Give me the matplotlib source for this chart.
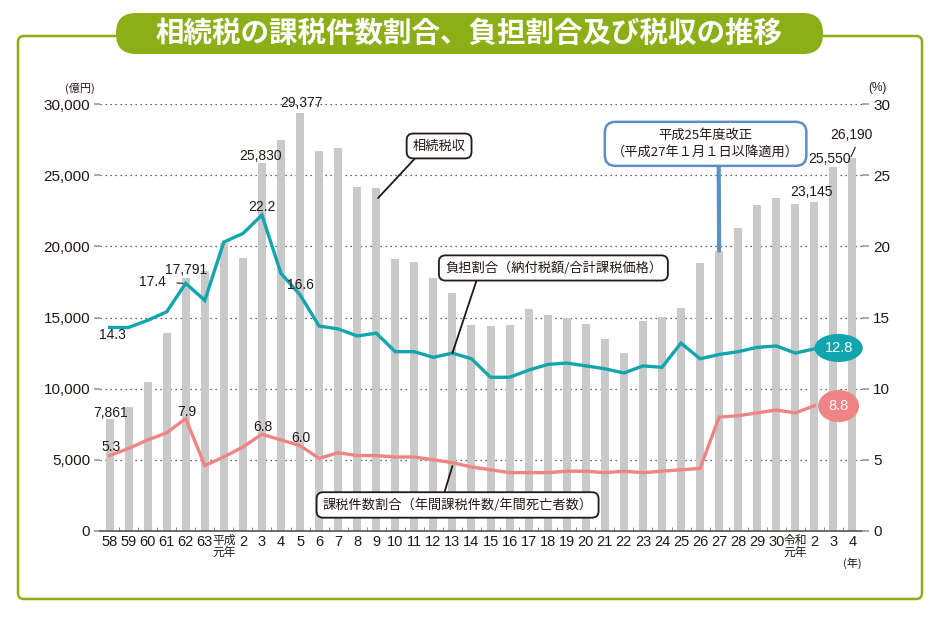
import matplotlib
matplotlib.use("Agg")
import matplotlib.pyplot as plt
from matplotlib import font_manager
from matplotlib.patches import FancyBboxPatch
import numpy as np

# -------------------------------
# Data
# -------------------------------
years = ['58', '59', '60', '61', '62', '63', '平成\n元年', '2', '3', '4', '5', '6', '7', '8', '9',
         '10', '11', '12', '13', '14', '15', '16', '17', '18', '19', '20', '21', '22', '23', '24',
         '25', '26', '27', '28', '29', '30', '令和\n元年', '2', '3', '4']

# 相続税収 (億円)
revenue = [7861, 8700, 10500, 13900, 17791, 18300, 20200, 19200, 25830, 27500,
           29377, 26700, 26900, 24200, 24100, 19100, 18900, 17800, 16700, 14500,
           14400, 14500, 15600, 15200, 15000, 14550, 13500, 12500, 14750, 15050,
           15700, 18800, 19700, 21300, 22900, 23400, 23000, 23145, 25550, 26190]

# 負担割合 (%)  -> 令和2年まで
burden = [14.3, 14.3, 14.8, 15.4, 17.4, 16.2, 20.3, 20.9, 22.2, 18.1,
          16.6, 14.4, 14.2, 13.7, 13.9, 12.6, 12.6, 12.2, 12.5, 12.1,
          10.8, 10.8, 11.3, 11.7, 11.8, 11.6, 11.4, 11.1, 11.6, 11.5,
          13.2, 12.1, 12.4, 12.6, 12.9, 13.0, 12.5, 12.8]

# 課税件数割合 (%)
taxable = [5.3, 5.8, 6.4, 6.9, 7.9, 4.6, 5.2, 5.9, 6.8, 6.4,
           6.0, 5.1, 5.5, 5.3, 5.3, 5.2, 5.2, 5.0, 4.8, 4.5,
           4.3, 4.1, 4.1, 4.1, 4.2, 4.2, 4.1, 4.2, 4.1, 4.2,
           4.3, 4.4, 8.0, 8.1, 8.3, 8.5, 8.3, 8.8]

left_ticks = [0, 5000, 10000, 15000, 20000, 25000, 30000]
right_ticks = [0, 5, 10, 15, 20, 25, 30]

# -------------------------------
# Style
# -------------------------------
names = {f.name for f in font_manager.fontManager.ttflist}
num_font = 'Liberation Sans Narrow' if 'Liberation Sans Narrow' in names else 'Liberation Sans'
jp = ['Noto Sans CJK JP', 'DejaVu Sans']
mixed = [num_font, 'Noto Sans CJK JP', 'DejaVu Sans']
plt.rcParams['font.family'] = mixed

green = '#8cae17'
teal = '#11a6ad'
pink = '#ef8484'
blue = '#5b8fc6'
bar_gray = '#c9c9c9'
text_c = '#231815'

fig = plt.figure(figsize=(9.4, 6.2), dpi=100)

# frame and title in pixel coordinates
bg = fig.add_axes([0, 0, 1, 1], zorder=0)
bg.set_xlim(0, 940)
bg.set_ylim(620, 0)
bg.axis('off')
bg.add_patch(FancyBboxPatch((18, 36), 904, 563, boxstyle='round,pad=0,rounding_size=6',
                            fc='white', ec=green, lw=1.8))
bg.add_patch(FancyBboxPatch((116, 13), 707, 41, boxstyle='round,pad=0,rounding_size=20',
                            fc=green, ec='none'))
bg.text(469, 34, '相続税の課税件数割合、負担割合及び税収の推移', color='white',
        fontsize=20.5, fontweight='bold', family=jp, ha='center', va='center')

# -------------------------------
# Main chart
# -------------------------------
x = np.arange(len(years))
ax = fig.add_axes([100 / 940, 1 - 531 / 620, 762 / 940, 427 / 620], zorder=1)
ax.patch.set_alpha(0)

ax.bar(x, revenue, width=0.42, color=bar_gray, zorder=2)
ax.set_xlim(-0.5, 39.5)
ax.set_ylim(0, 30000)
ax.set_yticks(left_ticks)
ax.set_yticklabels([f'{v:,}' for v in left_ticks])
ax.set_axisbelow(True)
ax.yaxis.grid(True, color='#333333', linestyle=(0, (1, 3)), linewidth=0.9)
ax.tick_params(axis='y', direction='out', length=4, width=1.2, color='#999999',
               labelsize=11, labelcolor=text_c, pad=3)
ax.set_xticks(x)
ax.set_xticklabels(years)
ax.set_xticks(x[:-1] + 0.5, minor=True)
ax.tick_params(axis='x', which='major', length=0, labelsize=10.5, labelcolor=text_c, pad=3)
ax.tick_params(axis='x', which='minor', direction='in', length=3, color='#777777')
for lab in ax.get_xticklabels():
    if '\n' in lab.get_text():
        lab.set_fontsize(8.5)
        lab.set_linespacing(0.95)
for s in ['top', 'right', 'left']:
    ax.spines[s].set_visible(False)
ax.spines['bottom'].set_color('#555555')
ax.spines['bottom'].set_linewidth(1.2)

ax2 = ax.twinx()
ax2.set_zorder(2)
ax2.set_ylim(0, 30)
ax2.set_yticks(right_ticks)
ax2.tick_params(axis='y', direction='out', length=5, width=1.2, color='#999999',
                labelsize=11, labelcolor=text_c, pad=3)
for s in ['top', 'right', 'left', 'bottom']:
    ax2.spines[s].set_visible(False)

xl = x[:len(burden)]
ax2.plot(xl, burden, color=teal, lw=2.4, solid_joinstyle='miter', zorder=3)
ax2.plot(xl, taxable, color=pink, lw=2.4, solid_joinstyle='miter', zorder=3)

# units
ax.text(-0.026, 1.037, '(億円)', transform=ax.transAxes, ha='center', va='center',
        fontsize=8, family=jp, color=text_c)
ax.text(1.02, 1.037, '(%)', transform=ax.transAxes, ha='center', va='center',
        fontsize=8.5, color=text_c)
ax.annotate('(年)', xy=(39, 0), xycoords=('data', 'axes fraction'), xytext=(0, -23),
            textcoords='offset points', ha='center', va='center', fontsize=8, family=jp,
            color=text_c)

# bar value labels
lab_kw = dict(ha='center', va='center', fontsize=10, color=text_c)
ax.text(0.05, 8310, '7,861', **lab_kw)
ax.text(4.0, 18340, '17,791', **lab_kw)
ax.text(7.93, 26350, '25,830', **lab_kw)
ax.text(10.08, 30060, '29,377', **lab_kw)
ax.text(36.84, 23850, '23,145', **lab_kw)
ax.text(37.8, 26120, '25,550', **lab_kw)
ax.annotate('26,190', xy=(38.92, revenue[39] + 100), xytext=(38.94, 27830), ha='center',
            va='center', fontsize=10, color=text_c,
            arrowprops=dict(arrowstyle='-', color=text_c, lw=0.8, relpos=(0.65, 0),
                            shrinkA=2, shrinkB=0))

# line value labels
ax2.text(0.16, 13.8, '14.3', **lab_kw)
ax2.annotate('17.4', xy=(3.85, burden[4]), xytext=(2.25, 17.52), ha='center', va='center',
             fontsize=10, color=text_c,
             arrowprops=dict(arrowstyle='-', color=text_c, lw=0.8, shrinkA=6, shrinkB=0))
ax2.text(7.98, 22.79, '22.2', **lab_kw)
ax2.text(10.03, 17.29, '16.6', **lab_kw)
ax2.text(0.1, 5.92, '5.3', **lab_kw)
ax2.text(4.08, 8.34, '7.9', **lab_kw)
ax2.text(8.06, 7.33, '6.8', **lab_kw)
ax2.text(10.07, 6.51, '6.0', **lab_kw)

# end labels
ax2.text(38.27, 12.86, '12.8', ha='center', va='center', fontsize=10.5, color='white',
         bbox=dict(boxstyle='ellipse,pad=0.2', fc=teal, ec='none'), zorder=5)
ax2.text(38.27, 8.78, '8.8', ha='center', va='center', fontsize=10.5, color='white',
         bbox=dict(boxstyle='ellipse,pad=0.3', fc=pink, ec='none'), zorder=5)

# callouts
box_kw = dict(boxstyle='round,pad=0.45,rounding_size=0.5', fc='white', ec=text_c, lw=1.3)
ax2.annotate('相続税収', xy=(14.1, 23400), xycoords=ax.transData, xytext=(17.3, 27.05),
             textcoords=ax2.transData,
             ha='center', va='center', fontsize=9.5, family=jp, color=text_c, bbox=box_kw,
             arrowprops=dict(arrowstyle='-', color=text_c, lw=1.3, relpos=(0.15, 0),
                             shrinkA=0, shrinkB=0), zorder=6)
ax2.annotate('負担割合（納付税額/合計課税価格）', xy=(18, burden[18]), xytext=(23.3, 18.48),
             ha='center', va='center', fontsize=9.5, family=jp, color=text_c, bbox=box_kw,
             arrowprops=dict(arrowstyle='-', color=text_c, lw=1.3, relpos=(0.155, 0),
                             shrinkA=0, shrinkB=0), zorder=6)
ax2.annotate('課税件数割合（年間課税件数/年間死亡者数）', xy=(18, 4.57), xytext=(18.27, 1.83),
             ha='center', va='center', fontsize=9.5, family=jp, color=text_c, bbox=box_kw,
             arrowprops=dict(arrowstyle='-', color=text_c, lw=1.3, relpos=(0.445, 1),
                             shrinkA=0, shrinkB=0), zorder=6)
ax2.annotate('平成25年度改正\n（平成27年１月１日以降適用）', xy=(32, revenue[32]),
             xycoords=ax.transData, xytext=(31.29, 27.2), textcoords=ax2.transData,
             ha='center', va='center',
             fontsize=9.5, family=jp, color=text_c, linespacing=1.35,
             bbox=dict(boxstyle='round,pad=0.55,rounding_size=0.8', fc='white', ec=blue, lw=1.8),
             arrowprops=dict(arrowstyle='-', color=blue, lw=3, relpos=(0.57, 0),
                             shrinkA=0, shrinkB=0), zorder=6)

fig.savefig('out.png', dpi=100)
